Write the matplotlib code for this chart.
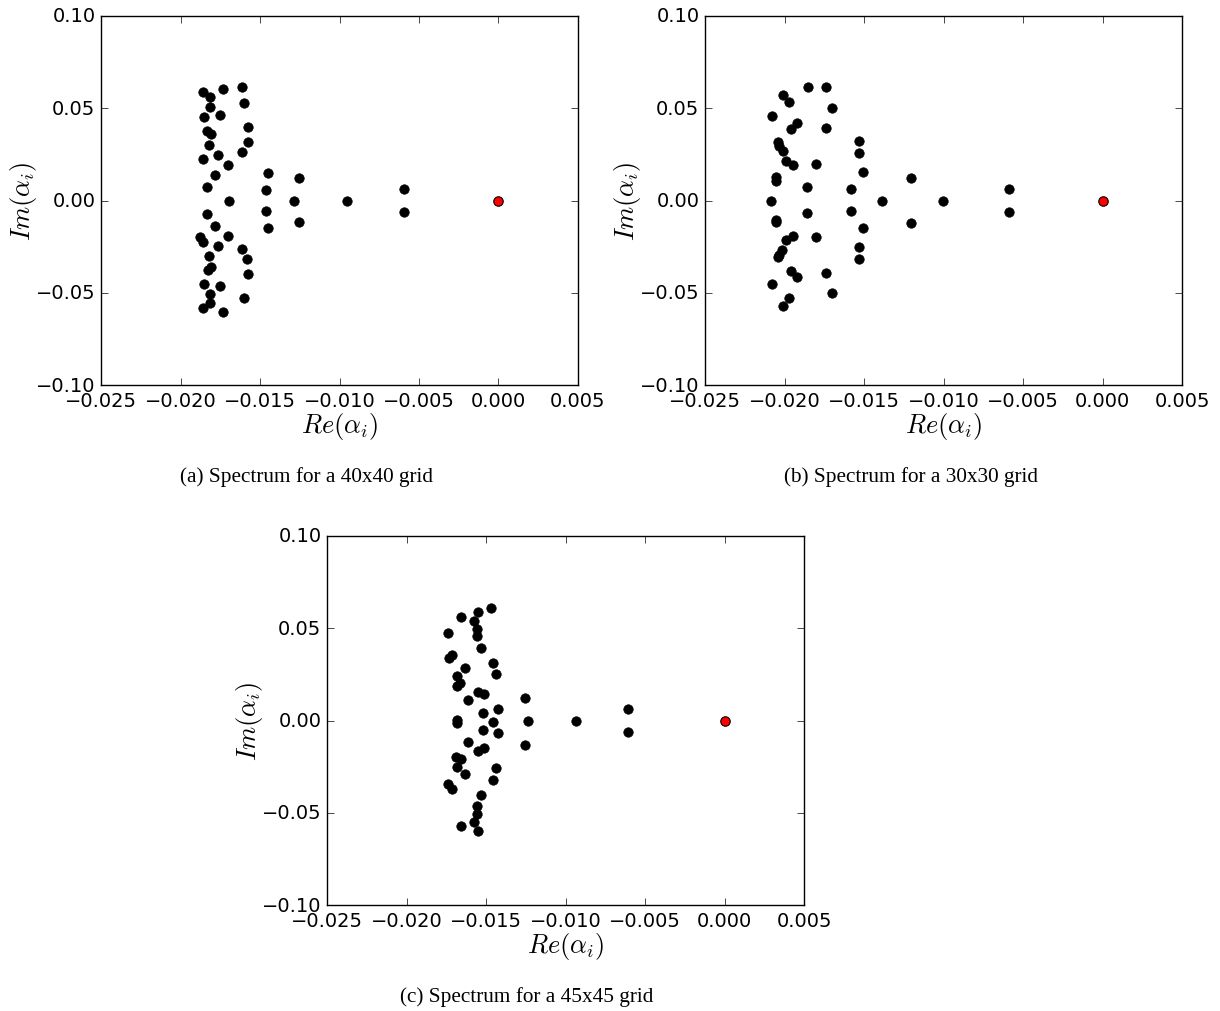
import matplotlib
matplotlib.use("Agg")
import matplotlib.pyplot as plt
from matplotlib.ticker import FuncFormatter
import numpy as np

plt.style.use("classic")
plt.rcParams["font.family"] = ["DejaVu Sans"]
plt.rcParams["font.sans-serif"] = ["DejaVu Sans"]

# (a) 40x40 grid
re_a = [-0.01860, -0.01814, -0.01735, -0.01613, -0.01599, -0.01814, -0.01852, -0.01752,
        -0.01574, -0.01831, -0.01810, -0.01577, -0.01823, -0.01615, -0.01857, -0.01766,
        -0.01703, -0.01783, -0.01450, -0.01257, -0.01831, -0.01464, -0.01693, -0.01286,
        -0.01831, -0.01464, -0.01783, -0.01450, -0.01257, -0.01877, -0.01857, -0.01703,
        -0.01766, -0.01615, -0.01823, -0.01580, -0.01827, -0.01810, -0.01574, -0.01852,
        -0.01752, -0.01814, -0.01601, -0.01814, -0.01857, -0.01735,
        -0.00953, -0.00594, -0.00594]
im_a = [0.0586, 0.0559, 0.0604, 0.0617, 0.0528, 0.0505, 0.0453, 0.0465,
        0.0400, 0.0378, 0.0360, 0.0317, 0.0301, 0.0264, 0.0227, 0.0245,
        0.0194, 0.0140, 0.0147, 0.0120, 0.0075, 0.0059, 0.0, 0.0,
        -0.0075, -0.0059, -0.0140, -0.0149, -0.0118, -0.0196, -0.0223, -0.0194,
        -0.0247, -0.0264, -0.0301, -0.0317, -0.0375, -0.0362, -0.0400, -0.0453,
        -0.0463, -0.0507, -0.0528, -0.0556, -0.0583, -0.0603,
        0.0, 0.0062, -0.0062]

# (b) 30x30 grid
re_b = [-0.01850, -0.01741, -0.02008, -0.01974, -0.01703, -0.02081, -0.01923, -0.01957,
        -0.01741, -0.02043, -0.02035, -0.02011, -0.01530, -0.01530, -0.01992, -0.01945,
        -0.01802, -0.01504, -0.02055, -0.02055, -0.01858, -0.01582, -0.02087, -0.01389,
        -0.02055, -0.02055, -0.01858, -0.01582, -0.01504, -0.01992, -0.01945, -0.01802,
        -0.02014, -0.02043, -0.02035, -0.01530, -0.01530, -0.01957, -0.01923, -0.01741,
        -0.02081, -0.01703, -0.01974, -0.02008,
        -0.01204, -0.01204, -0.01003, -0.00588, -0.00588]
im_b = [0.0617, 0.0617, 0.0572, 0.0532, 0.0503, 0.0456, 0.0420, 0.0386,
        0.0395, 0.0315, 0.0297, 0.0270, 0.0321, 0.0256, 0.0216, 0.0194,
        0.0198, 0.0153, 0.0126, 0.0104, 0.0072, 0.0061, -0.0005, 0.0,
        -0.0106, -0.0118, -0.0068, -0.0059, -0.0151, -0.0212, -0.0194, -0.0198,
        -0.0267, -0.0308, -0.0295, -0.0254, -0.0317, -0.0382, -0.0416, -0.0391,
        -0.0454, -0.0503, -0.0528, -0.0570,
        0.0122, -0.0122, 0.0, 0.0061, -0.0061]

# (c) 45x45 grid
re_c = [-0.01467, -0.01552, -0.01659, -0.01575, -0.01558, -0.01558, -0.01737, -0.01533,
        -0.01733, -0.01716, -0.01456, -0.01439, -0.01684, -0.01634, -0.01684, -0.01664,
        -0.01548, -0.01513, -0.01615, -0.01255, -0.01517, -0.01426, -0.01684, -0.01684,
        -0.01458, -0.01234, -0.01517, -0.01426, -0.01255, -0.01615, -0.01548, -0.01513,
        -0.01689, -0.01659, -0.01684, -0.01634, -0.01437, -0.01458, -0.01737, -0.01716,
        -0.01533, -0.01558, -0.01558, -0.01575, -0.01659, -0.01552,
        -0.00934, -0.00607, -0.00607]
im_c = [0.0611, 0.0586, 0.0563, 0.0538, 0.0496, 0.0456, 0.0473, 0.0393,
        0.0337, 0.0357, 0.0312, 0.0250, 0.0243, 0.0283, 0.0189, 0.0202,
        0.0156, 0.0144, 0.0111, 0.0122, 0.0041, 0.0061, 0.0004, -0.0015,
        -0.0007, 0.0, -0.0050, -0.0069, -0.0131, -0.0118, -0.0164, -0.0151,
        -0.0196, -0.0209, -0.0250, -0.0292, -0.0259, -0.0321, -0.0344, -0.0371,
        -0.0402, -0.0465, -0.0507, -0.0549, -0.0572, -0.0597,
        0.0, 0.0060, -0.0060]

# leading (red) eigenvalue in each case
lead_re = [0.0, 0.0, 0.0]
lead_im = [0.0, 0.0, 0.0]

captions = ["(a) Spectrum for a 40x40 grid",
            "(b) Spectrum for a 30x30 grid",
            "(c) Spectrum for a 45x45 grid"]

xticks = [-0.025, -0.020, -0.015, -0.010, -0.005, 0.000, 0.005]
yticks = [-0.10, -0.05, 0.00, 0.05, 0.10]


def fmt(n):
    def f(v, pos):
        s = ("%." + str(n) + "f") % v
        if s.startswith("-") and float(s) == 0:
            s = s[1:]
        return s.replace("-", "\u2212")
    return FuncFormatter(f)


fig = plt.figure(figsize=(12.2, 10.12), dpi=100, facecolor="white")

W, H = 1220.0, 1012.0
boxes = [(101, 578, 17, 386), (705, 1182, 17, 386), (327, 804, 537, 906)]
caption_pos = [(307, 477), (911, 477), (527, 997)]
data = [(re_a, im_a), (re_b, im_b), (re_c, im_c)]

for i, ((x0, x1, y0, y1), (re, im)) in enumerate(zip(boxes, data)):
    ax = fig.add_axes([x0 / W, 1 - y1 / H, (x1 - x0) / W, (y1 - y0) / H])
    ax.set_facecolor("white")
    ax.plot(re, im, "o", color="black", markersize=6.8, markeredgecolor="black",
            markeredgewidth=0.5, linestyle="none")
    ax.plot([lead_re[i]], [lead_im[i]], "o", color="red", markersize=6.8,
            markeredgecolor="black", markeredgewidth=0.8, linestyle="none")
    ax.set_xlim(-0.025, 0.005)
    ax.set_ylim(-0.10, 0.10)
    ax.set_xticks(xticks)
    ax.set_yticks(yticks)
    ax.xaxis.set_major_formatter(fmt(3))
    ax.yaxis.set_major_formatter(fmt(2))
    ax.tick_params(labelsize=14, direction="in", length=5, top=True, right=True)
    for lab in ax.get_xticklabels() + ax.get_yticklabels():
        lab.set_family("DejaVu Sans")
    ax.set_xlabel(r"$Re(\alpha_i)$", fontsize=19, labelpad=0)
    ax.set_ylabel(r"$Im(\alpha_i)$", fontsize=19, labelpad=-2)
    cx, cy = caption_pos[i]
    fig.text(cx / W, 1 - cy / H, captions[i], ha="center", va="center",
             family="Liberation Serif", fontsize=15.3)

fig.savefig("out.png", dpi=100, facecolor="white")
